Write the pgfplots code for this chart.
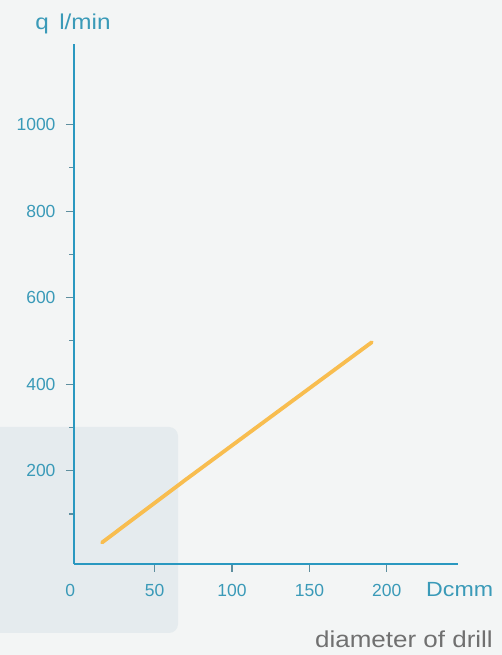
\documentclass[border=0pt]{standalone}
\usepackage{fontspec}
\setmainfont{Liberation Sans}
\newfontfamily\widefont[FakeStretch=1.13]{Liberation Sans}
\usepackage{pgfplots}
\pgfplotsset{compat=1.18}
\definecolor{bg}{HTML}{F3F5F5}
\definecolor{boxc}{HTML}{E5EBEE}
\definecolor{axblue}{HTML}{2A98C0}
\definecolor{lblblue}{HTML}{3A9AB8}
\definecolor{tickc}{HTML}{5E8E9E}
\definecolor{orangeline}{HTML}{F8BD4F}
\definecolor{graytxt}{HTML}{707070}
\begin{document}
\begin{tikzpicture}[x=1bp,y=1bp]
\path[use as bounding box] (0,0) rectangle (502,655);
\fill[bg] (0,0) rectangle (502,655);
\fill[boxc, rounded corners=9bp] (-20,22) rectangle (178,228);
\begin{axis}[at={(74bp,91bp)}, anchor=south west,
  width=384bp, height=520bp, scale only axis,
  xmin=-2.1, xmax=246, ymin=-15.7, ymax=1186.6,
  axis lines=left,
  axis line style={-, axblue, line width=2.8bp},
  xtick={50,100,150,200},
  ytick={200,400,600,800,1000},
  minor ytick={100,300,500,700,900},
  tick align=outside,
  major tick length=8bp, minor tick length=5bp,
  tick style={tickc, line width=1.1bp},
  ticklabel style={lblblue, font=\fontsize{17.5bp}{20bp}\selectfont},
  xticklabel style={yshift=-9bp},
  yticklabel style={xshift=-7bp},
  /pgf/number format/assume math mode=true,
  /pgf/number format/1000 sep={},
  extra x ticks={0}, extra x tick labels={0},
  extra x tick style={major tick length=0pt, xticklabel style={xshift=-7bp, yshift=-8bp}},
  clip=false,
]
\addplot[orangeline, line width=3.8bp, line cap=round] coordinates {(16,34) (70.7,181) (190.3,497)};
\end{axis}
\node[lblblue, anchor=base, font=\widefont\fontsize{21.5bp}{24bp}\selectfont] at (73,625) {q\, l/min};
\node[lblblue, anchor=base west, inner sep=0pt, font=\widefont\fontsize{20.5bp}{24bp}\selectfont] at (426,58.3) {Dcmm};
\node[graytxt, anchor=base east, inner sep=0pt, font=\widefont\fontsize{23bp}{26bp}\selectfont] at (493,7) {diameter of drill};
\end{tikzpicture}
\end{document}
